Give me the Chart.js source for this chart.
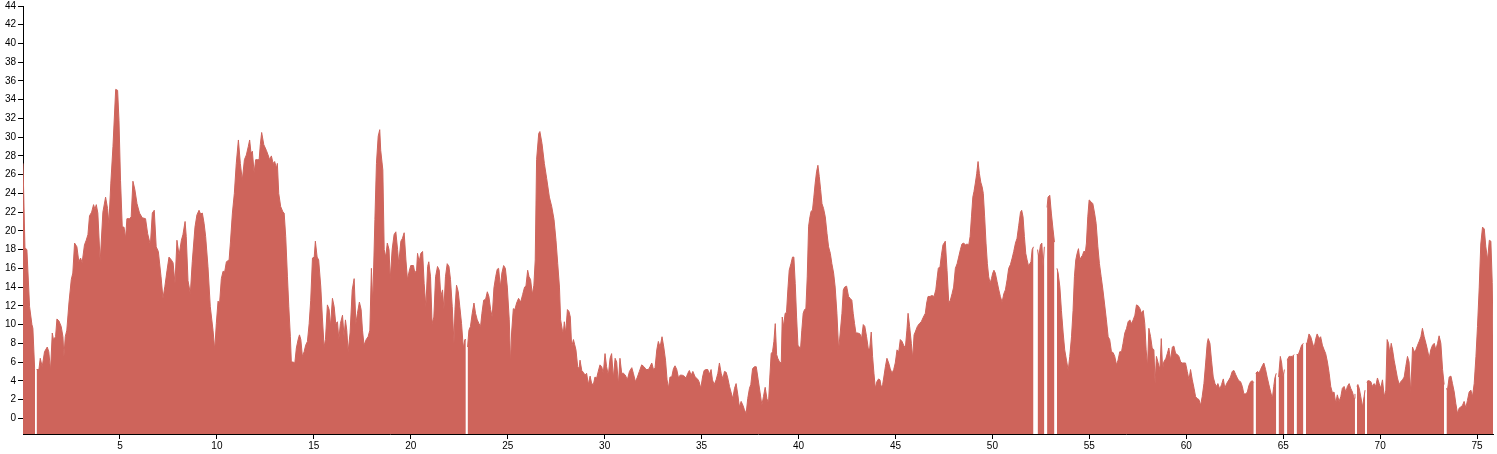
<!DOCTYPE html>
<html>
<head>
<meta charset="utf-8">
<script src="https://cdn.jsdelivr.net/npm/chart.js@4.4.1/dist/chart.umd.min.js"></script>
<style>
html,body{margin:0;padding:0;background:#fff;}
#wrap{width:1497px;height:454px;position:relative;}
</style>
</head>
<body>
<div id="wrap"><canvas id="c"></canvas></div>
<script>
// tick labels
const xTicks = [5,10,15,20,25,30,35,40,45,50,55,60,65,70,75];
const yTicks = [0,2,4,6,8,10,12,14,16,18,20,22,24,26,28,30,32,34,36,38,40,42,44];

// distance (x) and value (y) pairs; null = missing data (gap)
const profile = [
[0,27.2],[0.1,18.2],[0.2,18.0],[0.34,11.9],[0.46,10.0],[0.51,9.6],[0.6,5.3],[0.62,5.3],[0.66,null],[0.7,5.2],
[0.82,5.2],[0.89,6.4],[0.99,5.5],[1.11,7.1],[1.25,7.6],[1.33,7.1],[1.42,5.1],[1.51,9.1],[1.57,8.4],[1.68,8.7],
[1.75,10.6],[1.85,10.4],[1.97,9.8],[2.06,8.7],[2.11,6.6],[2.18,8.7],[2.26,9.4],[2.37,12.3],[2.49,14.8],[2.57,15.5],
[2.66,18.7],[2.78,18.3],[2.88,16.7],[2.97,17.1],[3.05,16.6],[3.17,18.5],[3.26,19.0],[3.35,19.6],[3.43,21.6],[3.54,22.0],
[3.64,22.8],[3.71,22.3],[3.78,22.8],[3.86,21.9],[3.98,16.7],[4.12,22.0],[4.26,23.6],[4.36,22.4],[4.43,20.8],[4.53,25.1],
[4.64,29.0],[4.78,35.1],[4.88,35.0],[4.95,31.8],[5.03,25.4],[5.12,20.4],[5.21,20.4],[5.29,19.2],[5.36,21.3],[5.5,21.3],
[5.58,21.5],[5.67,25.3],[5.77,24.4],[5.88,22.9],[6.01,21.9],[6.15,21.4],[6.32,21.3],[6.43,19.7],[6.57,18.5],[6.67,21.9],
[6.77,22.2],[6.87,18.3],[6.98,17.8],[7.12,15.1],[7.22,12.8],[7.32,14.1],[7.43,15.8],[7.53,17.2],[7.65,16.9],[7.74,16.6],
[7.84,14.4],[7.94,19.0],[8.05,17.4],[8.17,19.0],[8.25,19.6],[8.36,21.0],[8.42,19.4],[8.51,14.7],[8.63,13.3],[8.73,16.7],
[8.87,20.4],[8.97,21.7],[9.08,22.2],[9.16,21.8],[9.25,21.9],[9.34,20.8],[9.42,19.4],[9.54,16.2],[9.66,11.9],[9.8,9.4],
[9.89,7.3],[9.97,10.1],[10.06,12.5],[10.14,12.3],[10.23,14.9],[10.32,15.7],[10.4,15.6],[10.49,16.7],[10.63,16.9],[10.7,18.8],
[10.8,21.9],[10.9,24.0],[11.0,27.2],[11.11,29.7],[11.21,27.2],[11.31,25.4],[11.42,27.6],[11.52,28.1],[11.62,29.0],[11.69,29.7],
[11.76,28.3],[11.83,28.5],[11.92,26.2],[12.0,27.6],[12.11,27.6],[12.18,27.6],[12.24,29.2],[12.31,30.5],[12.42,29.2],[12.55,28.6],
[12.64,28.1],[12.72,27.6],[12.81,28.0],[12.9,27.2],[12.98,27.4],[13.07,26.7],[13.12,27.2],[13.19,24.0],[13.29,22.6],[13.41,22.0],
[13.47,21.9],[13.55,19.4],[13.64,15.1],[13.71,11.9],[13.79,8.7],[13.84,6.0],[13.93,6.0],[14.02,5.9],[14.1,7.5],[14.19,8.4],
[14.26,8.9],[14.33,8.4],[14.41,6.6],[14.5,7.1],[14.58,7.8],[14.67,8.2],[14.76,10.1],[14.84,12.6],[14.93,17.1],[15.02,17.2],
[15.08,18.9],[15.17,17.2],[15.25,16.9],[15.36,14.0],[15.44,10.8],[15.53,7.6],[15.6,8.4],[15.7,12.1],[15.79,11.6],[15.86,9.8],
[15.96,12.8],[16.05,11.9],[16.13,10.1],[16.22,10.3],[16.29,8.4],[16.37,10.1],[16.48,11.0],[16.56,8.7],[16.63,10.5],[16.7,9.4],
[16.77,7.1],[16.87,9.1],[16.98,13.7],[17.08,14.9],[17.17,10.1],[17.25,11.2],[17.35,12.4],[17.44,11.6],[17.51,9.4],[17.59,7.8],
[17.7,8.4],[17.8,8.7],[17.89,9.4],[17.97,16.0],[18.04,12.3],[18.15,21.2],[18.23,27.2],[18.32,30.1],[18.4,30.8],[18.45,28.6],
[18.56,26.5],[18.63,18.0],[18.71,17.2],[18.79,18.7],[18.88,18.0],[18.94,14.8],[19.04,18.0],[19.14,19.6],[19.23,19.9],[19.32,18.0],
[19.38,16.5],[19.49,18.9],[19.57,19.2],[19.66,19.8],[19.75,16.9],[19.83,14.8],[19.92,15.7],[20.0,16.3],[20.14,16.3],[20.21,15.5],
[20.3,15.8],[20.35,17.6],[20.43,16.7],[20.52,17.6],[20.61,17.8],[20.69,14.4],[20.78,11.9],[20.87,16.2],[20.93,16.7],[21.02,15.1],
[21.1,10.1],[21.19,10.8],[21.28,15.1],[21.38,16.2],[21.47,15.8],[21.55,13.0],[21.64,13.7],[21.71,11.6],[21.79,15.1],[21.88,16.5],
[21.97,16.2],[22.05,14.8],[22.14,11.9],[22.23,8.0],[22.28,11.6],[22.36,14.2],[22.45,13.5],[22.53,11.9],[22.62,10.1],[22.71,7.5],
[22.79,8.4],[22.84,8.4],[22.88,null],[22.93,7.6],[23.0,9.4],[23.08,9.8],[23.17,11.2],[23.26,12.3],[23.34,11.2],[23.43,10.5],
[23.52,10.1],[23.6,9.8],[23.67,11.2],[23.76,12.6],[23.86,12.7],[23.95,13.5],[24.03,13.0],[24.12,11.6],[24.2,10.8],[24.29,13.9],
[24.38,15.1],[24.46,15.9],[24.53,16.0],[24.62,14.0],[24.7,15.5],[24.79,16.3],[24.88,16.0],[24.98,14.0],[25.08,10.5],[25.15,5.8],
[25.2,9.1],[25.29,11.7],[25.37,11.6],[25.46,12.3],[25.56,12.8],[25.67,12.4],[25.77,13.2],[25.87,14.0],[25.94,14.1],[26.03,15.8],
[26.1,15.1],[26.18,14.8],[26.27,13.2],[26.35,14.2],[26.42,16.9],[26.49,27.6],[26.6,30.4],[26.66,30.6],[26.77,29.3],[26.89,27.2],
[27.01,25.6],[27.15,23.6],[27.27,22.6],[27.39,21.2],[27.49,19.0],[27.58,16.5],[27.67,14.0],[27.73,10.5],[27.82,9.4],[27.87,9.1],
[27.92,10.3],[27.99,9.1],[28.08,11.6],[28.16,11.4],[28.23,10.8],[28.3,7.6],[28.39,8.4],[28.45,7.9],[28.52,7.3],[28.61,5.5],
[28.68,5.3],[28.73,6.2],[28.82,5.1],[28.9,4.9],[28.99,4.6],[29.07,4.8],[29.16,3.6],[29.25,4.5],[29.33,3.7],[29.42,3.6],
[29.5,4.4],[29.59,4.3],[29.67,5.0],[29.76,5.7],[29.85,5.5],[29.93,4.8],[30.02,6.9],[30.1,5.5],[30.19,4.6],[30.28,6.4],
[30.36,6.9],[30.45,4.3],[30.54,6.4],[30.62,6.0],[30.71,3.6],[30.79,6.4],[30.88,4.8],[30.97,4.8],[31.07,4.6],[31.17,4.1],
[31.28,5.0],[31.4,5.4],[31.48,4.8],[31.59,3.9],[31.69,4.4],[31.79,5.0],[31.91,5.7],[32.03,5.5],[32.14,5.2],[32.26,5.2],
[32.34,5.5],[32.43,5.9],[32.52,5.2],[32.6,5.4],[32.69,7.3],[32.77,8.2],[32.86,7.6],[32.96,8.7],[33.05,7.6],[33.14,6.2],
[33.22,4.1],[33.29,3.2],[33.37,4.4],[33.46,4.4],[33.55,5.3],[33.63,5.6],[33.72,5.2],[33.81,4.3],[33.89,4.6],[34.0,4.6],
[34.1,4.5],[34.2,4.3],[34.29,4.8],[34.37,5.1],[34.46,4.6],[34.55,5.0],[34.67,4.4],[34.79,4.2],[34.87,3.9],[34.96,3.2],
[35.05,4.4],[35.13,5.1],[35.23,5.2],[35.32,5.2],[35.4,4.7],[35.49,5.2],[35.56,4.1],[35.65,3.6],[35.75,4.1],[35.84,4.8],
[35.92,5.9],[36.01,4.8],[36.1,4.2],[36.18,5.0],[36.27,4.9],[36.35,4.3],[36.44,3.4],[36.53,2.7],[36.61,2.1],[36.7,3.2],
[36.78,3.7],[36.87,2.5],[36.95,1.2],[37.04,1.8],[37.13,1.4],[37.21,0.9],[37.3,0.5],[37.38,2.1],[37.47,3.2],[37.54,3.6],
[37.63,5.3],[37.73,5.5],[37.82,5.5],[37.92,4.1],[38.02,2.7],[38.11,1.4],[38.19,2.3],[38.28,3.3],[38.37,2.1],[38.45,1.6],
[38.52,4.4],[38.59,6.9],[38.66,7.1],[38.73,8.2],[38.8,10.1],[38.87,6.8],[38.93,6.4],[39.02,6.0],[39.11,5.9],[39.16,10.8],
[39.23,9.8],[39.31,11.2],[39.38,11.3],[39.45,13.7],[39.52,15.8],[39.61,16.5],[39.69,17.2],[39.76,17.2],[39.83,14.4],[39.9,10.8],
[39.97,7.8],[40.04,7.6],[40.1,7.3],[40.17,9.4],[40.24,11.2],[40.31,11.6],[40.38,11.7],[40.45,15.1],[40.52,20.5],[40.59,21.5],
[40.65,22.1],[40.72,22.2],[40.79,23.6],[40.86,25.1],[40.93,26.3],[41.0,27.0],[41.07,25.8],[41.14,24.4],[41.21,22.9],[41.29,22.4],
[41.38,21.5],[41.47,19.7],[41.55,18.3],[41.64,17.6],[41.72,16.5],[41.81,15.5],[41.89,14.0],[41.98,11.2],[42.07,7.3],[42.15,9.1],
[42.24,11.2],[42.31,13.7],[42.38,14.0],[42.48,14.1],[42.58,13.0],[42.66,12.8],[42.75,12.6],[42.82,11.2],[42.89,10.1],[42.96,9.1],
[43.06,9.1],[43.17,9.0],[43.25,8.5],[43.34,10.0],[43.42,9.8],[43.51,8.7],[43.6,7.4],[43.67,7.4],[43.75,9.2],[43.82,6.6],
[43.89,4.8],[43.96,3.2],[44.04,3.9],[44.13,4.2],[44.2,4.1],[44.27,3.3],[44.34,3.6],[44.4,4.4],[44.48,5.5],[44.56,6.4],
[44.65,5.9],[44.73,5.3],[44.82,4.8],[44.91,5.2],[44.99,5.9],[45.08,7.3],[45.17,7.1],[45.25,8.4],[45.34,8.2],[45.42,7.8],
[45.51,7.5],[45.59,9.4],[45.65,11.2],[45.73,9.8],[45.82,8.0],[45.89,6.4],[45.96,8.9],[46.02,9.2],[46.13,9.8],[46.23,10.1],
[46.33,10.3],[46.44,10.8],[46.54,11.2],[46.61,12.3],[46.68,13.0],[46.78,13.0],[46.88,13.1],[46.99,13.0],[47.08,13.7],[47.14,14.8],
[47.21,16.0],[47.3,16.2],[47.37,17.4],[47.45,18.5],[47.57,18.9],[47.66,15.8],[47.75,12.3],[47.83,12.6],[47.92,13.3],[48.0,14.0],
[48.09,16.0],[48.18,16.5],[48.26,17.2],[48.35,18.0],[48.43,18.6],[48.52,18.7],[48.61,18.5],[48.69,18.6],[48.78,18.5],[48.85,19.4],
[48.92,21.5],[48.99,23.6],[49.05,24.2],[49.12,25.1],[49.19,26.1],[49.26,27.4],[49.33,26.1],[49.4,25.2],[49.47,24.7],[49.53,24.0],
[49.6,21.5],[49.67,18.7],[49.74,16.5],[49.81,15.1],[49.88,14.4],[49.95,14.9],[50.02,15.5],[50.08,15.8],[50.15,15.5],[50.24,14.6],
[50.33,13.7],[50.41,13.0],[50.5,12.4],[50.59,13.3],[50.67,13.7],[50.76,14.8],[50.84,16.0],[50.93,16.4],[51.02,17.1],[51.1,17.8],
[51.19,18.7],[51.27,19.2],[51.36,20.6],[51.45,22.0],[51.51,22.2],[51.58,21.5],[51.65,19.4],[51.72,17.6],[51.79,16.9],[51.87,16.2],
[51.93,16.5],[51.99,16.7],[52.05,18.0],[52.12,18.3],[52.17,null],[52.23,18.1],[52.27,null],[52.33,18.0],[52.39,17.2],[52.48,18.5],
[52.55,18.7],[52.61,16.2],[52.68,18.3],[52.75,null],[52.82,22.5],[52.87,23.6],[52.96,23.8],[53.04,21.9],[53.13,20.1],[53.2,18.8],
[53.27,null],[53.33,16.0],[53.39,15.5],[53.48,14.0],[53.56,11.5],[53.65,9.1],[53.73,7.3],[53.82,6.2],[53.91,5.1],[53.99,6.6],
[54.08,8.7],[54.16,11.5],[54.23,15.1],[54.3,16.9],[54.37,17.6],[54.44,18.1],[54.51,16.9],[54.58,17.2],[54.65,17.4],[54.71,17.8],
[54.8,17.8],[54.85,18.7],[54.92,21.5],[54.99,23.3],[55.09,23.1],[55.18,22.9],[55.27,21.9],[55.35,20.8],[55.44,18.3],[55.52,16.5],
[55.61,15.1],[55.7,13.7],[55.78,12.3],[55.88,10.5],[55.97,8.7],[56.05,8.4],[56.14,7.1],[56.23,7.0],[56.31,6.6],[56.4,5.7],
[56.48,6.2],[56.57,7.1],[56.66,7.1],[56.74,8.0],[56.83,9.1],[56.92,9.6],[57.0,10.3],[57.09,10.5],[57.18,10.1],[57.26,10.5],
[57.35,11.0],[57.43,12.1],[57.52,12.0],[57.61,11.7],[57.69,11.2],[57.78,11.5],[57.86,10.1],[57.93,7.3],[58.0,5.5],[58.07,9.6],
[58.16,8.7],[58.24,7.5],[58.33,7.3],[58.39,3.7],[58.46,6.6],[58.55,5.9],[58.64,5.2],[58.71,8.5],[58.78,5.2],[58.84,6.0],
[58.95,6.4],[59.02,6.9],[59.1,7.5],[59.19,6.2],[59.28,7.6],[59.36,7.7],[59.45,6.9],[59.54,6.8],[59.62,6.6],[59.71,6.0],
[59.79,5.9],[59.88,5.9],[59.96,5.9],[60.05,5.0],[60.14,4.1],[60.22,5.2],[60.31,4.1],[60.4,3.2],[60.48,2.3],[60.57,2.1],
[60.65,2.0],[60.74,1.4],[60.82,2.3],[60.91,3.7],[61.0,5.9],[61.08,8.0],[61.13,8.5],[61.22,8.0],[61.3,6.2],[61.39,4.4],
[61.48,3.7],[61.56,3.4],[61.63,3.7],[61.73,3.1],[61.82,3.6],[61.91,4.2],[61.99,3.2],[62.08,3.7],[62.2,4.1],[62.28,4.4],
[62.37,5.0],[62.46,5.1],[62.54,4.7],[62.63,4.3],[62.71,4.0],[62.8,3.9],[62.89,3.4],[62.97,2.6],[63.06,2.6],[63.15,2.8],
[63.23,3.5],[63.32,3.9],[63.41,4.0],[63.48,3.8],[63.53,null],[63.58,4.8],[63.68,5.0],[63.75,4.8],[63.83,5.2],[63.92,5.6],
[64.0,5.9],[64.09,5.2],[64.17,4.4],[64.26,3.6],[64.35,2.8],[64.44,2.1],[64.51,3.4],[64.57,4.3],[64.64,4.8],[64.7,null],
[64.76,4.4],[64.85,6.6],[64.92,5.9],[64.99,4.4],[65.06,5.2],[65.13,null],[65.2,6.2],[65.3,6.6],[65.38,6.6],[65.47,6.6],
[65.56,6.8],[65.62,null],[65.69,6.8],[65.78,6.8],[65.87,7.3],[65.95,7.8],[66.04,8.0],[66.1,null],[66.17,8.0],[66.23,8.0],
[66.33,9.0],[66.42,8.7],[66.5,8.1],[66.59,7.5],[66.68,8.5],[66.75,9.0],[66.85,8.5],[66.93,8.7],[67.02,7.8],[67.11,7.3],
[67.19,6.9],[67.28,6.0],[67.37,4.8],[67.45,3.4],[67.54,2.7],[67.62,2.8],[67.71,1.6],[67.79,2.5],[67.88,1.8],[67.97,2.3],
[68.05,3.2],[68.14,3.4],[68.23,2.8],[68.31,3.4],[68.4,3.7],[68.48,3.2],[68.57,2.8],[68.66,2.1],[68.7,2.6],[68.74,null],
[68.8,3.4],[68.85,3.6],[68.92,3.2],[69.0,2.3],[69.09,1.2],[69.17,2.3],[69.22,3.0],[69.27,null],[69.32,3.8],[69.36,4.0],
[69.43,4.0],[69.52,3.9],[69.6,3.4],[69.69,3.7],[69.77,3.4],[69.86,4.3],[69.95,3.7],[70.03,3.2],[70.12,4.1],[70.21,2.3],
[70.29,3.0],[70.36,8.4],[70.43,8.0],[70.5,6.9],[70.57,8.0],[70.64,7.3],[70.72,6.2],[70.81,5.2],[70.89,4.3],[70.98,3.6],
[71.06,3.9],[71.15,4.1],[71.24,4.4],[71.32,5.5],[71.41,6.6],[71.49,6.0],[71.58,2.7],[71.67,7.6],[71.75,7.1],[71.84,7.3],
[71.93,7.8],[72.01,8.2],[72.1,8.7],[72.18,9.6],[72.27,8.7],[72.36,8.0],[72.44,7.3],[72.53,6.4],[72.61,7.3],[72.7,7.8],
[72.79,8.0],[72.87,7.3],[72.96,8.0],[73.04,8.8],[73.13,8.0],[73.22,5.2],[73.3,3.6],[73.36,null],[73.42,3.2],[73.47,3.0],
[73.56,4.4],[73.65,4.5],[73.73,3.7],[73.82,2.8],[73.9,1.6],[73.99,0.5],[74.08,1.1],[74.16,1.2],[74.25,1.4],[74.33,1.8],
[74.42,1.1],[74.5,1.9],[74.59,2.8],[74.68,3.0],[74.76,2.3],[74.85,3.7],[74.94,6.6],[75.02,9.8],[75.11,14.0],[75.19,18.6],
[75.28,20.4],[75.37,20.2],[75.45,18.3],[75.54,16.9],[75.63,19.0],[75.71,18.9],[75.78,14.5],[75.82,8.8]
];

const X_MAX = 75.82;
const Y_MIN = -1.68;
const Y_MAX = 44;
const FILL = 'rgb(206,100,91)';
const FONT = {family: '"Liberation Sans", Arial, sans-serif', size: 10};

const points = profile.map(p => ({x: p[0], y: p[1]}));

new Chart(document.getElementById('c'), {
  type: 'line',
  data: {
    datasets: [{
      data: points,
      fill: 'start',
      backgroundColor: FILL,
      borderColor: FILL,
      borderWidth: 1,
      pointRadius: 0,
      tension: 0,
      spanGaps: false
    }]
  },
  options: {
    responsive: true,
    maintainAspectRatio: false,
    animation: false,
    events: [],
    layout: {padding: {top: 6, right: 4, left: 0, bottom: 0}},
    plugins: {legend: {display: false}, tooltip: {enabled: false}},
    scales: {
      x: {
        type: 'linear',
        min: 0,
        max: X_MAX,
        afterBuildTicks: s => { s.ticks = xTicks.map(v => ({value: v})); },
        afterFit: s => { s.height = 20; s.paddingLeft = 0; s.paddingRight = 0; },
        ticks: {color: '#000', font: FONT, padding: 1, maxRotation: 0, autoSkip: false},
        grid: {drawOnChartArea: false, drawTicks: true, tickLength: 5, color: '#000'},
        border: {display: true, color: '#000', width: 1}
      },
      y: {
        type: 'linear',
        min: Y_MIN,
        max: Y_MAX,
        afterBuildTicks: s => { s.ticks = yTicks.map(v => ({value: v})); },
        afterFit: s => { s.width = 23; s.paddingTop = 0; s.paddingBottom = 0; },
        ticks: {color: '#000', font: FONT, padding: 2, autoSkip: false},
        grid: {drawOnChartArea: false, drawTicks: true, tickLength: 5, color: '#000'},
        border: {display: true, color: '#000', width: 1}
      }
    }
  }
});
</script>
</body>
</html>
